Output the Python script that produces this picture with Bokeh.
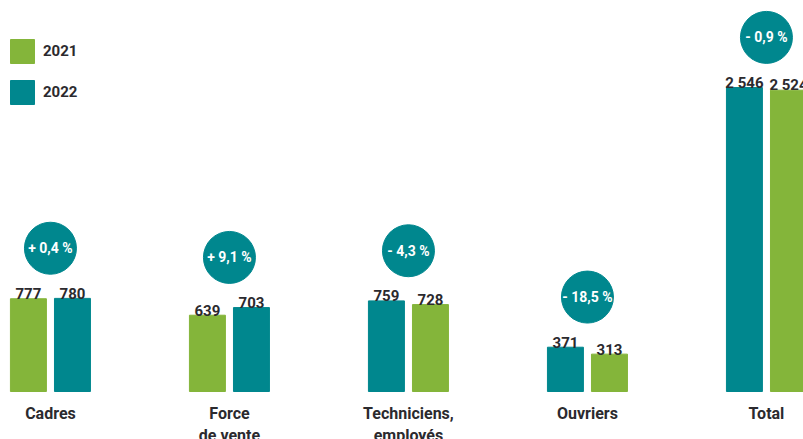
from bokeh.plotting import figure
from bokeh.models import ColumnDataSource, Range1d, Legend, LegendItem
from bokeh.core.properties import value
from bokeh.embed import file_html
from bokeh.resources import INLINE

categories = ["Cadres", "Force\nde vente", "Techniciens,\nemployés", "Ouvriers", "Total"]
left_values = [777, 639, 759, 371, 2546]
right_values = [780, 703, 728, 313, 2524]
pct_labels = ["+ 0,4 %", "+ 9,1 %", "- 4,3 %", "- 18,5 %", "- 0,9 %"]

GREEN = "#84b53a"
TEAL = "#00878e"
DARK = "#2b2a2e"
left_colors = [GREEN, GREEN, TEAL, TEAL, TEAL]
right_colors = [TEAL, TEAL, GREEN, GREEN, GREEN]

FONT = "Roboto"

def fmt(v):
    return f"{v:,}".replace(",", " ")

idx = list(range(len(categories)))
off = 0.123
bw = 0.201

src_l = ColumnDataSource(dict(x=[i - off for i in idx], top=left_values, color=left_colors,
                              label=[fmt(v) for v in left_values]))
src_r = ColumnDataSource(dict(x=[i + off for i in idx], top=right_values, color=right_colors,
                              label=[fmt(v) for v in right_values]))
pct_y = [max(a, b) + 420 for a, b in zip(left_values, right_values)]
src_c = ColumnDataSource(dict(x=idx, y=pct_y, label=pct_labels, cat=categories, zero=[0] * len(idx)))

p = figure(width=803, height=439, output_backend="svg", toolbar_location=None,
           x_range=Range1d(-0.279, 4.207), y_range=Range1d(-402, 3275),
           min_border=0, outline_line_color=None)
p.axis.visible = False
p.grid.visible = False
p.background_fill_color = "white"
p.border_fill_color = "white"

rl = p.vbar(x="x", top="top", bottom=0, width=bw, color="color", source=src_l)
rr = p.vbar(x="x", top="top", bottom=0, width=bw, color="color", source=src_r)

for s in (src_l, src_r):
    p.text(x="x", y="top", text="label", source=s, text_align="center",
           text_baseline="alphabetic", y_offset=-5, text_font=value(FONT),
           text_font_style="bold", text_font_size="15px", text_color=DARK)

p.scatter(x="x", y="y", size=52, marker="circle", color=TEAL, source=src_c)
p.text(x="x", y="y", text="label", source=src_c, text_align="center",
       text_baseline="middle", text_font=value(FONT), text_font_style="bold",
       text_font_size="14px", text_color="white")

p.text(x="x", y="zero", text="cat", source=src_c, text_align="center",
       text_baseline="top", y_offset=12, text_font=value(FONT), text_font_style="bold",
       text_font_size="16px", text_color=DARK, text_line_height=1.2)

legend = Legend(items=[LegendItem(label="2021", renderers=[rl], index=0),
                       LegendItem(label="2022", renderers=[rl], index=2)],
                location=(7, 332), glyph_width=30, glyph_height=30, spacing=11,
                padding=0, margin=0, label_standoff=6, border_line_color=None,
                background_fill_alpha=0, label_text_font=FONT,
                label_text_font_style="bold", label_text_font_size="15px",
                label_text_color=DARK)
p.add_layout(legend, "center")

open("out.html", "w").write(file_html(p, INLINE))
